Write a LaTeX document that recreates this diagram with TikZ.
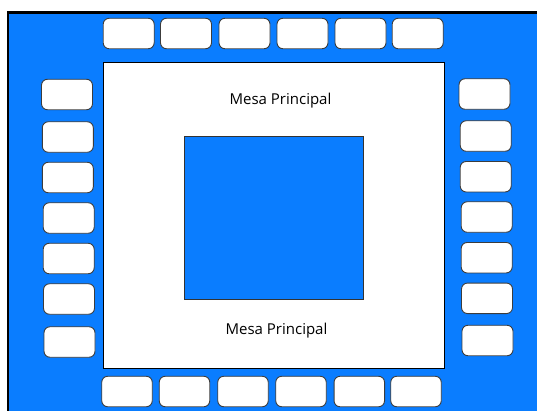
\documentclass[tikz,border=0pt]{standalone}
\usepackage{fontspec}
\setmainfont{Open Sans}
\definecolor{floorblue}{RGB}{10,125,255}
\definecolor{edgegray}{RGB}{60,60,60}
\begin{document}
\begin{tikzpicture}[x=1pt,y=-1pt,
  seat/.style={draw=edgegray,line width=0.9pt,fill=white,rounded corners=6pt,
    minimum width=51pt,minimum height=30.5pt,inner sep=0pt,outer sep=0pt},
  lbl/.style={font=\fontsize{15}{17}\selectfont,inner sep=0pt}]
\useasboundingbox (0,0) rectangle (537,410);
\fill[white] (0,0) rectangle (537,410);
% outer floor
\fill[floorblue] (8,12.5) rectangle (540,413);
\draw[black,line width=2.5pt] (8,413) -- (8,12.5) -- (540,12.5);
% main table
\node[draw=black,line width=0.8pt,fill=white,minimum width=341pt,minimum height=306pt,inner sep=0pt,anchor=north west] (mesa) at (103,62) {};
\node[draw=black!80,line width=0.8pt,fill=floorblue,minimum width=179pt,minimum height=163pt,inner sep=0pt,anchor=north west] (centro) at (184,135.5) {};
\node[lbl] (t1) at (280.5,101) {Mesa Principal};
\node[lbl] (t2) at (276.5,331) {Mesa Principal};
% top seats
\foreach \x [count=\i] in {128.7,186,244.5,302.5,360.5,417.7}
  \node[seat] (top\i) at (\x,33.5) {};
% bottom seats
\foreach \x [count=\i] in {127,184.5,243,301,359.3,416}
  \node[seat,minimum width=50.5pt] (bot\i) at (\x,391.5) {};
% left seats
\foreach \x/\y [count=\i] in {67/94.5,67.8/137,67.8/177.5,68.7/218,68.7/258.5,69/299,69.5/342}
  \node[seat] (left\i) at (\x,\y) {};
% right seats
\foreach \x/\y [count=\i] in {484.5/94,485.7/136,485.7/176.7,486.7/217,486.7/257.7,487/298.3,487.5/340.5}
  \node[seat] (right\i) at (\x,\y) {};
\end{tikzpicture}
\end{document}
